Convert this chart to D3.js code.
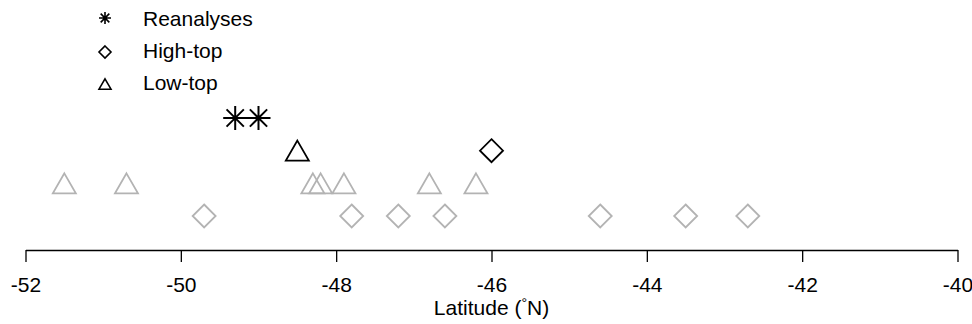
<!DOCTYPE html>
<html><head><meta charset="utf-8">
<script src="https://cdn.jsdelivr.net/npm/d3@7"></script>
<style>body{margin:0;background:#fff}svg{display:block}text{font-family:"Liberation Sans",Arial,Helvetica,sans-serif}</style>
</head><body><svg id="c" width="972" height="324"></svg>
<script>
const reanalyses = [-49.3, -49.0];
const lowTopMean = [-48.5];
const highTopMean = [-46.0];
const lowTop = [-51.5, -50.7, -48.3, -48.2, -47.9, -46.8, -46.2];
const highTop = [-49.7, -47.8, -47.2, -46.6, -44.6, -43.5, -42.7];
const xTicks = [-52, -50, -48, -46, -44, -42, -40];
const legendLabels = ["Reanalyses", "High-top", "Low-top"];

const svg = d3.select("#c");
const x = d3.scaleLinear().domain([-52, -40]).range([25.5, 957.5]);
const y = d3.scaleLinear().domain([1, 4]).range([216, 118]);
const grey = "#b3b3b3";

const axis = d3.axisBottom(x).tickValues(xTicks).tickFormat(d3.format("d")).tickSize(12).tickSizeOuter(0);
const g = svg.append("g").attr("transform", "translate(0,250)").call(axis);
g.select(".domain").attr("stroke", "#000").attr("stroke-width", 1.3);
g.selectAll(".tick line").attr("stroke", "#000").attr("stroke-width", 1.3);
g.selectAll(".tick text").attr("font-size", 21).attr("fill", "#000").attr("y", 42).attr("dy", 0)
  .text(d => d < 0 ? "-" + Math.abs(d) : d);

const t = svg.append("text").attr("x", x(-46)).attr("y", 315).attr("text-anchor", "middle").attr("font-size", 21).attr("fill", "#000");
t.append("tspan").text("Latitude (");
t.append("tspan").text("°").attr("font-size", 14).attr("dy", -7);
t.append("tspan").text("N)").attr("dy", 7);

function tri(s) { const h = s * 0.87; return `M0,${-h*0.5}L${s/2},${h*0.5}L${-s/2},${h*0.5}Z`; }
function dia(s) { const r = s / 2; return `M0,${-r}L${r},0L0,${r}L${-r},0Z`; }
function ast(s) { const r = s / 2, d = r * 0.72; return `M${-r},0L${r},0M0,${-r}L0,${r}M${-d},${-d}L${d},${d}M${-d},${d}L${d},${-d}`; }

function plot(data, row, pathFn, size, color, sw) {
  svg.append("g").selectAll("path").data(data).join("path")
    .attr("transform", d => `translate(${x(d)},${y(row)})`)
    .attr("d", pathFn(size)).attr("fill", "none").attr("stroke", color).attr("stroke-width", sw);
}
plot(highTop, 1, dia, 23, grey, 1.8);
plot(lowTop, 2, tri, 23, grey, 1.8);
plot(lowTopMean, 3, tri, 23, "#000", 1.8);
plot(highTopMean, 3, dia, 23, "#000", 1.8);
plot(reanalyses, 4, ast, 24, "#000", 2);

const legY = [18, 52, 84];
const legFns = [ast, dia, tri];
legendLabels.forEach((lab, i) => {
  svg.append("path").attr("transform", `translate(105,${legY[i]})`).attr("d", legFns[i](12))
    .attr("fill", "none").attr("stroke", "#000").attr("stroke-width", 1.6);
  svg.append("text").attr("x", 143).attr("y", [26, 58, 90][i]).attr("font-size", 21).attr("fill", "#000").text(lab);
});
</script></body></html>
